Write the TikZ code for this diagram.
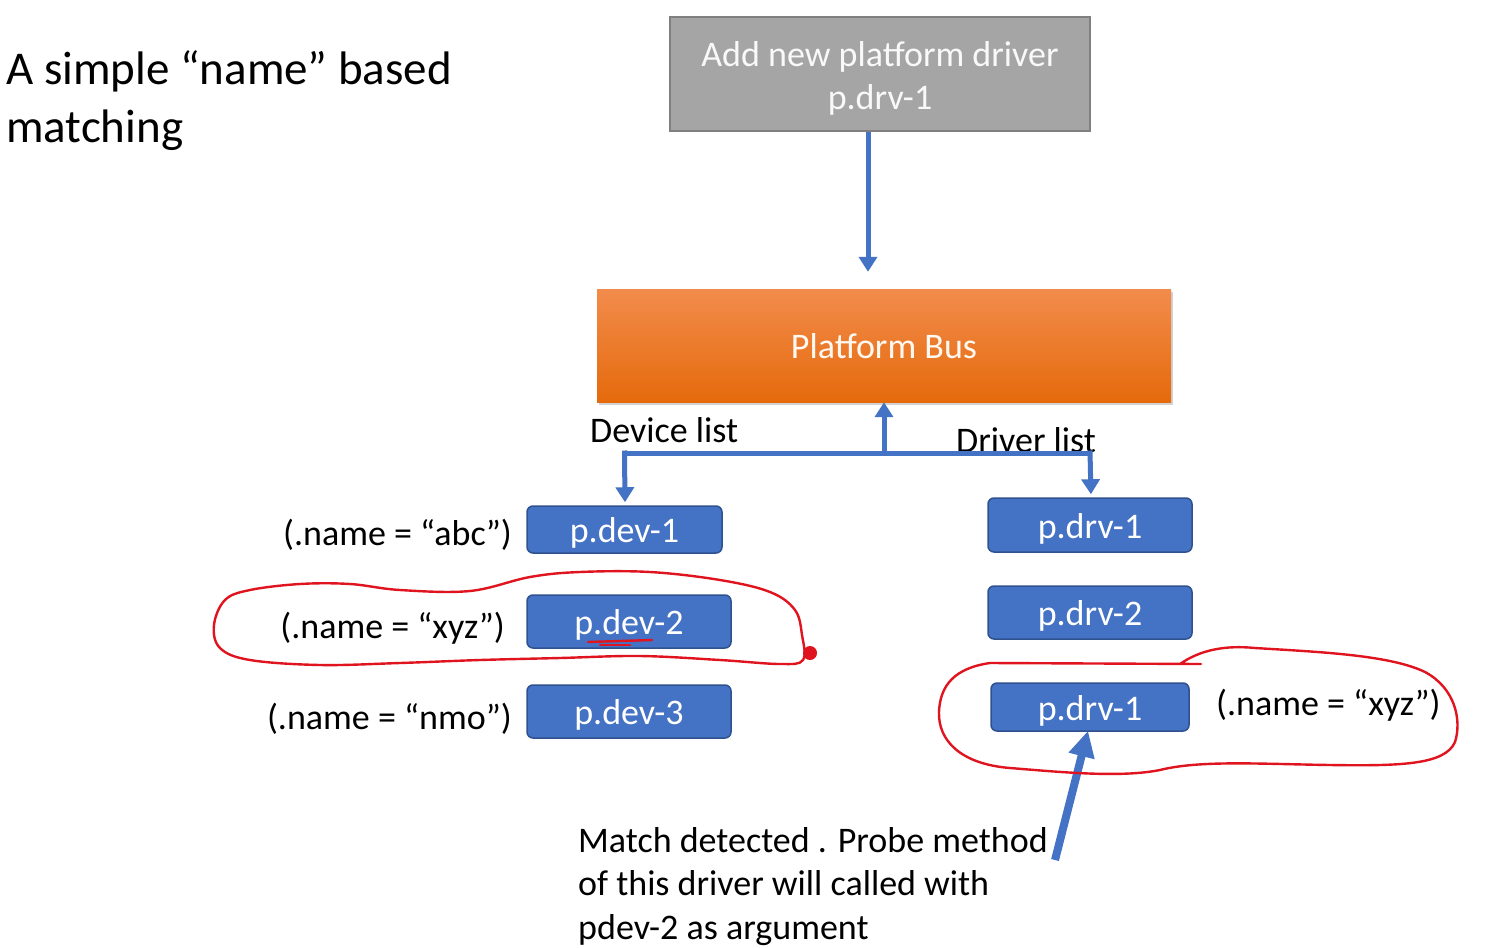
\documentclass[tikz,border=0pt]{standalone}
\usepackage{fontspec}
\setmainfont{Carlito}
\usetikzlibrary{arrows.meta,shadows,calc}
\definecolor{bblue}{HTML}{4472C4}
\definecolor{bborder}{HTML}{2F528F}
\definecolor{gfill}{HTML}{A5A5A5}
\definecolor{gborder}{HTML}{7F7F7F}
\definecolor{otop}{HTML}{F28C4C}
\definecolor{obot}{HTML}{E56A0C}
\definecolor{scrib}{HTML}{E0141E}
\tikzset{
  lbl/.style={font=\fontsize{36}{43.5}\selectfont, inner sep=0pt},
  bluebox/.style={draw=bborder, line width=1.5pt, fill=bblue, rounded corners=6pt,
    text=white, font=\fontsize{36}{43.5}\selectfont, inner sep=0pt,
    text height=32pt, text depth=6pt},
  arr/.style={draw=bblue, line width=5pt, -{Triangle[width=18pt,length=15pt]}},
  plainline/.style={draw=bblue, line width=5pt},
  scribble/.style={draw=scrib, line width=2.4pt, line join=round, line cap=round},
}
\begin{document}
\begin{tikzpicture}[x=1pt,y=-1pt]
\useasboundingbox[fill=white] (0,0) rectangle (1492,948);

% title
\node[lbl, font=\fontsize{47}{58}\selectfont, anchor=north west, align=left] (title) at (6,50)
  {A simple “name” based\\matching};

% top gray box
\node[draw=gborder, line width=1.5pt, fill=gfill, text=white!95!gray, minimum width=420pt,
  minimum height=114pt, align=center, inner sep=0pt,
  font=\fontsize{36}{43.5}\selectfont] (gray) at (880,74)
  {\rule{0pt}{34pt}Add new platform driver\\p.drv-1};

% platform bus
\node[minimum width=574pt, minimum height=113pt, top color=otop, bottom color=obot,
  draw=none, text=white!95!orange, inner sep=0pt, font=\fontsize{36}{43.5}\selectfont,
  text height=32pt, text depth=6pt,
  drop shadow={shadow xshift=2pt, shadow yshift=-3pt, opacity=0.35, fill=gray}] (bus) at (884,345.5)
  {Platform Bus};

\draw[arr, shorten >=17pt] ([xshift=-12pt]gray.south) -- ([xshift=-16pt]bus.north);

% list labels
\node[lbl, anchor=west] (devlist) at (590,430) {Device list};
\node[lbl, anchor=west] (drvlist) at (956,440) {Driver list};

% device boxes
\node[bluebox, minimum width=195pt, minimum height=47pt] (dev1) at (624.5,529.5) {p.dev-1};
\node[bluebox, minimum width=204pt, minimum height=53pt] (dev2) at (629,621.5) {p.dev-2};
\node[bluebox, minimum width=204pt, minimum height=53pt] (dev3) at (629,711.5) {p.dev-3};

% driver boxes
\node[bluebox, minimum width=204pt, minimum height=54pt] (drv1) at (1090,525) {p.drv-1};
\node[bluebox, minimum width=204pt, minimum height=53pt] (drv2) at (1090,612.5) {p.drv-2};
\node[bluebox, minimum width=198pt, minimum height=48pt] (drv3) at (1090,707) {p.drv-1};

% name labels
\node[lbl, anchor=east] (n1) at (512,535) {(.name = “abc”)};
\node[lbl, anchor=east] (n2) at (505,628) {(.name = “xyz”)};
\node[lbl, anchor=east] (n3) at (512,719) {(.name = “nmo”)};
\node[lbl, anchor=west] (n4) at (1216,705) {(.name = “xyz”)};

% connectors from bus
\coordinate (j) at (884,453);
\draw[arr] (j) -- (bus.south);
\draw[plainline] (j) -- (dev1.north |- j);
\draw[plainline] (j) -- (drv1.north |- j);
\draw[arr, shorten >=3pt] ($(dev1.north |- j)+(0,-2.5)$) -- ([xshift=0.5pt]dev1.north);
\draw[arr, shorten >=3pt] ($(drv1.north |- j)+(0,-2.5)$) -- ([xshift=1pt]drv1.north);

% bottom text
\node[lbl, anchor=north west, align=left] (note) at (578,827)
  {Match detected . Probe method\\of this driver will called with\\pdev-2 as argument};
\coordinate (tailp) at (1055,860);
\draw[draw=bblue, line width=8pt, -{Triangle[width=25pt,length=26pt]}]
  (tailp) -- ([xshift=-2pt,yshift=1pt]drv3.south);

% red scribbles
\draw[scribble] plot[smooth cycle, tension=0.6] coordinates {
  (214,625) (225,600) (250,590) (300,584) (350,584) (400,590) (470,591)
  (530,577) (580,572) (650,572) (720,580) (770,592) (795,610) (802,635)
  (803,660) (780,664) (720,660) (640,656) (560,658) (480,660)
  (400,663) (320,665) (250,660) (220,648)};
\fill[scrib] (810,653) circle (7pt);
\draw[scribble] (588,642) -- (652,640);
\draw[scribble] (600,645) -- (630,645);

\draw[scribble] (1201,664) -- (1180,664) .. controls (1200,650) and (1225,645) .. (1255,648)
  .. controls (1320,652) and (1390,655) .. (1425,672)
  .. controls (1455,688) and (1462,720) .. (1455,742)
  .. controls (1445,765) and (1400,766) .. (1330,765)
  .. controls (1260,764) and (1200,760) .. (1160,770)
  .. controls (1120,778) and (1060,772) .. (1010,768)
  .. controls (960,764) and (938,740) .. (939,712)
  .. controls (940,685) and (955,668) .. (990,663)
  -- (1201,664);
\end{tikzpicture}
\end{document}
